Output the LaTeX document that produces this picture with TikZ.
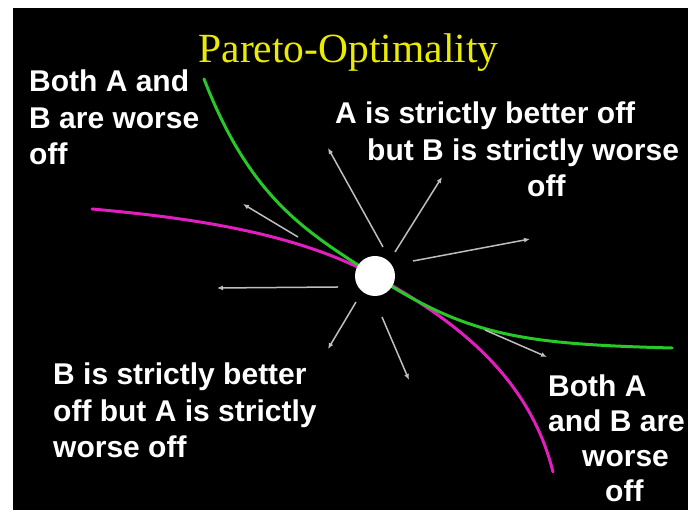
\documentclass[tikz,border=0pt]{standalone}
\usepackage{fontspec}
\setmainfont{Liberation Sans}
\newfontfamily\titlefont{Liberation Serif}
\usetikzlibrary{arrows.meta,positioning}
\definecolor{titleyellow}{RGB}{235,235,0}
\definecolor{paretogreen}{RGB}{40,200,40}
\definecolor{paretopink}{RGB}{225,30,190}
\definecolor{movegray}{RGB}{190,190,190}
\tikzset{
  movearrow/.style={-{Latex[length=6pt,width=5pt]}, line width=1.5pt, movegray},
  frontier/.style={line width=3pt, line cap=round},
  optpoint/.style={circle, fill=white, minimum size=40pt, inner sep=0pt},
  regiontext/.style={font=\bfseries\fontsize{30}{36.5}\selectfont, text=white, align=left, inner sep=0pt, anchor=base west}
}

\begin{document}
\begin{tikzpicture}[x=1pt, y=1pt]
  \useasboundingbox (0,0) rectangle (688,510);
  \fill[black] (13,0) rectangle (688,502);
  \coordinate (optc) at (375,234);
  % the two frontiers
  \draw[frontier, paretopink] (92,301) .. controls (192,292) and (297,277) .. (optc)
    .. controls (453,191) and (529,135) .. (553,38);
  \draw[frontier, paretogreen] (204,431) .. controls (251,310) and (307,278) .. (optc)
    .. controls (468,174) and (522,166) .. (672,162);
  \node[optpoint] (opt) at (optc) {};
  % moves away from the optimum
  \foreach \sx/\sy/\ex/\ey in {-77/39/-132/72, 8/29/-47/128, 20/24/67/99, 38/15/155/37,
                              110/-54/172/-81, 7/-41/34/-104, -19/-26/-47/-73, -37/-11/-158/-12}
    \draw[movearrow] ([shift={(\sx,\sy)}]opt.center) -- ([shift={(\ex,\ey)}]opt.center);
  \node[font=\titlefont\fontsize{41.5}{48}\selectfont, text=titleyellow, anchor=base, inner sep=0pt] (title) at (348.5,447) {Pareto-Optimality};
  \node[regiontext] (bothworseL) at (29,345) {Both A and\\B are worse\\off};
  \node[regiontext] (abetter) at (335,313) {A is strictly better off\\\hspace*{32pt}but B is strictly worse\\\hspace*{192pt}off};
  \node[regiontext] (bbetter) at (53,52) {B is strictly better\\off but A is strictly\\worse off};
  \node[regiontext, font=\bfseries\fontsize{30}{35}\selectfont] (bothworseR) at (548,8) {Both A\\and B are\\\hspace*{34pt}worse\\\hspace*{57pt}off};
\end{tikzpicture}
\end{document}
